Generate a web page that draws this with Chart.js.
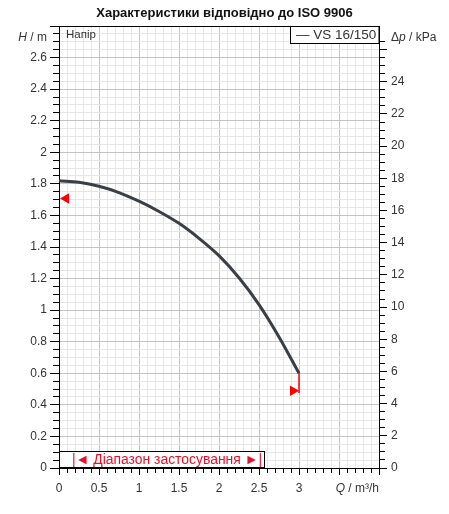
<!DOCTYPE html>
<html>
<head>
<meta charset="utf-8">
<script src="https://cdn.jsdelivr.net/npm/chart.js@4/dist/chart.umd.min.js"></script>
<style>
  html, body { margin: 0; padding: 0; background: #fff; }
  #wrap { width: 449px; height: 514px; position: relative; }
</style>
</head>
<body>
<div id="wrap"><canvas id="chart1"></canvas></div>
<script>
// pump curve
const qValues = [0, 0.25, 0.5, 0.75, 1, 1.25, 1.5, 1.75, 2, 2.25, 2.5, 2.75, 3];
const headValues = [1.82, 1.81, 1.785, 1.745, 1.69, 1.625, 1.55, 1.455, 1.345, 1.205, 1.035, 0.83, 0.60];

// end-of-curve red stroke and the two range markers
const limitQ = [3, 3];
const limitH = [0.61, 0.475];
const markerQ = [0.0875, 2.925];
const markerH = [1.707, 0.489];

const xLabels = [0, 0.5, 1, 1.5, 2, 2.5, 3];
const yLabels = [0, 0.2, 0.4, 0.6, 0.8, 1, 1.2, 1.4, 1.6, 1.8, 2, 2.2, 2.4, 2.6];
const kpaLabels = [0, 2, 4, 6, 8, 10, 12, 14, 16, 18, 20, 22, 24];

const title = "Характеристики відповідно до ISO 9906";
const seriesName = "VS 16/150";
const rangeText = "|◄ Діапазон застосування ►|";
const headText = "Напір";

const H_MAX = 2.8;
const KPA_PER_M = 9.81;
const FONT = "'Liberation Sans', Arial, sans-serif";

function near(v, list) {
  return list.some(t => Math.abs(t - v) < 1e-6);
}
function onStep(v, step) {
  return Math.abs(v / step - Math.round(v / step)) < 1e-6;
}

function mixed(ctx, parts, x, y, size, color) {
  ctx.fillStyle = color;
  ctx.textBaseline = "middle";
  ctx.textAlign = "left";
  parts.forEach(p => {
    ctx.font = (p[1] ? "italic " : "") + size + "px " + FONT;
    ctx.fillText(p[0], x, y);
    x += ctx.measureText(p[0]).width;
  });
}
function mixedWidth(ctx, parts, size) {
  let w = 0;
  parts.forEach(p => {
    ctx.font = (p[1] ? "italic " : "") + size + "px " + FONT;
    w += ctx.measureText(p[0]).width;
  });
  return w;
}

const extras = {
  id: "extras",
  afterDraw(chart) {
    const ctx = chart.ctx;
    const a = chart.chartArea;
    ctx.save();

    // axis names
    const hParts = [["H", true], [" / m", false]];
    mixed(ctx, hParts, 47 - mixedWidth(ctx, hParts, 12), 38, 12, "#333");
    mixed(ctx, [["Δ", false], ["p", true], [" / kPa", false]], 391, 38, 12, "#333");
    const qParts = [["Q", true], [" / m³/h", false]];
    mixed(ctx, qParts, a.right - mixedWidth(ctx, qParts, 12), 489, 12, "#333");

    // "Напір"
    ctx.font = "11.5px " + FONT;
    ctx.fillStyle = "#333";
    ctx.textBaseline = "middle";
    ctx.fillText(headText, a.left + 7, a.top + 9);

    // series box top right
    ctx.fillStyle = "#fff";
    ctx.fillRect(290.5, a.top + 0.5, a.right - 290.5, 17);
    ctx.strokeStyle = "#000";
    ctx.lineWidth = 1;
    ctx.strokeRect(290.5, a.top + 0.5, a.right - 290.5, 17);
    ctx.font = "13.5px " + FONT;
    ctx.fillStyle = "#333";
    ctx.textAlign = "left";
    ctx.fillText("— " + seriesName, 296, a.top + 9.5);

    // operating range box bottom left
    ctx.fillStyle = "#fff";
    ctx.fillRect(a.left + 0.5, a.bottom - 16.5, 205, 16);
    ctx.strokeRect(a.left + 0.5, a.bottom - 16.5, 205, 16);
    ctx.font = "14px " + FONT;
    ctx.fillStyle = "#e8102a";
    ctx.fillText(rangeText, a.left + 13, a.bottom - 7.5, 190);

    ctx.restore();
  }
};

new Chart(document.getElementById("chart1"), {
  type: "line",
  data: {
    datasets: [
      {
        label: seriesName,
        data: qValues.map((q, i) => ({x: q, y: headValues[i]})),
        borderColor: "#3a3f46",
        borderWidth: 3,
        pointRadius: 0,
        cubicInterpolationMode: "monotone",
        fill: false
      },
      {
        label: "limit",
        data: limitQ.map((q, i) => ({x: q, y: limitH[i]})),
        borderColor: "#f00",
        borderWidth: 1.5,
        pointRadius: 0,
        fill: false
      },
      {
        label: "markers",
        type: "scatter",
        data: markerQ.map((q, i) => ({x: q, y: markerH[i]})),
        pointStyle: "triangle",
        rotation: [270, 90],
        pointRadius: 6,
        pointHoverRadius: 6,
        backgroundColor: "#f00",
        borderColor: "#f00",
        borderWidth: 0
      }
    ]
  },
  options: {
    responsive: true,
    maintainAspectRatio: false,
    animation: false,
    layout: {padding: {top: 0, bottom: 16, left: 0, right: 0}},
    plugins: {
      legend: {display: false},
      tooltip: {enabled: false},
      title: {
        display: true,
        text: title,
        color: "#111",
        font: {family: FONT, size: 13, weight: "bold", lineHeight: 1},
        padding: {top: 7, bottom: 6}
      }
    },
    scales: {
      x: {
        type: "linear",
        position: "bottom",
        min: 0,
        max: 4,
        afterFit: s => { s.height = 30; },
        border: {color: "#000", width: 1},
        grid: {
          color: c => c.tick.value >= 4 ? "#000" : (onStep(c.tick.value, 0.5) ? "#c4c4c4" : "#e6e6e6"),
          tickColor: "#000",
          tickLength: 7,
          tickBorderDash: c => onStep(c.tick.value, 0.5) ? [] : [4, 100]
        },
        ticks: {
          stepSize: 0.1,
          autoSkip: false,
          maxRotation: 0,
          padding: 6,
          color: "#333",
          font: {family: FONT, size: 12},
          callback: v => near(v, xLabels) ? String(+v.toFixed(2)) : ""
        }
      },
      y: {
        type: "linear",
        position: "left",
        min: 0,
        max: H_MAX,
        afterFit: s => { s.width = 59; },
        border: {color: "#000", width: 1},
        grid: {
          color: c => c.tick.value >= H_MAX - 1e-6 ? "#000" : (onStep(c.tick.value, 0.2) ? "#c4c4c4" : "#e6e6e6"),
          tickColor: "#000",
          tickLength: 9,
          tickBorderDash: c => onStep(c.tick.value, 0.2) ? [] : [0, 3, 10, 100]
        },
        ticks: {
          stepSize: 0.05,
          autoSkip: false,
          padding: 3,
          color: "#333",
          font: {family: FONT, size: 12},
          callback: v => near(v, yLabels) ? String(+v.toFixed(2)) : ""
        }
      },
      y2: {
        type: "linear",
        position: "right",
        min: 0,
        max: H_MAX * KPA_PER_M,
        afterFit: s => { s.width = 70; },
        border: {color: "#000", width: 1},
        grid: {
          drawOnChartArea: false,
          tickColor: c => onStep(c.tick.value, 0.5) ? "#000" : "rgba(0,0,0,0)",
          tickLength: 8,
          tickBorderDash: c => onStep(c.tick.value, 2) ? [] : [5, 100]
        },
        ticks: {
          stepSize: 0.5,
          autoSkip: false,
          padding: 4,
          color: "#333",
          font: {family: FONT, size: 12},
          callback: v => near(v, kpaLabels) ? String(v) : ""
        }
      }
    }
  },
  plugins: [extras]
});
</script>
</body>
</html>
